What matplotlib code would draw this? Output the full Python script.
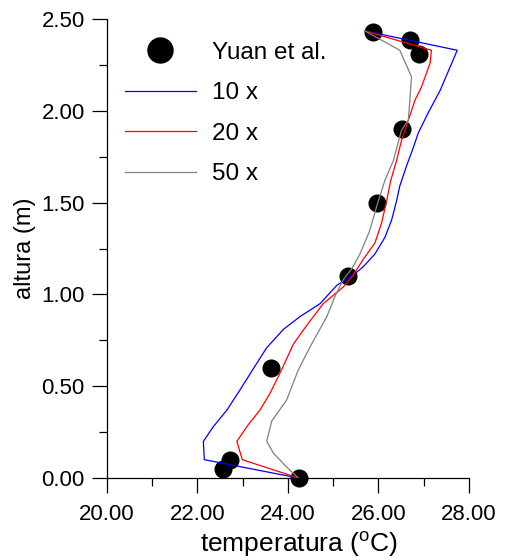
import numpy as np
import matplotlib
matplotlib.use("Agg")
import matplotlib.pyplot as plt
from matplotlib.ticker import MultipleLocator, FormatStrFormatter

plt.rcParams['font.family'] = ['Liberation Sans', 'DejaVu Sans']
plt.rcParams['mathtext.fontset'] = 'custom'
plt.rcParams['mathtext.rm'] = 'Liberation Sans'

# Yuan et al. measurements
yuan_t = [25.87, 26.70, 26.90, 26.53, 25.97, 25.33, 23.62, 24.24, 22.72, 22.56]
yuan_h = [2.43, 2.385, 2.31, 1.90, 1.50, 1.10, 0.60, 0.00, 0.10, 0.05]

# simulations (heights from floor to ceiling)
h10 = [0.00, 0.10, 0.20, 0.28, 0.37, 0.48, 0.59, 0.71, 0.81, 0.88, 0.95, 1.05, 1.105,
       1.15, 1.22, 1.31, 1.405, 1.51, 1.59, 1.70, 1.80, 1.88, 1.99, 2.11, 2.26, 2.33, 2.435]
t10 = [24.23, 22.15, 22.13, 22.35, 22.65, 22.94, 23.22, 23.53, 23.90, 24.27, 24.71, 25.08, 25.44,
       25.66, 25.92, 26.14, 26.29, 26.40, 26.47, 26.62, 26.77, 26.88, 27.10, 27.36, 27.62, 27.74, 25.70]

h20 = [0.00, 0.10, 0.20, 0.29, 0.37, 0.46, 0.59, 0.73, 0.83, 0.95, 1.04, 1.105, 1.19,
       1.28, 1.39, 1.51, 1.62, 1.73, 1.84, 1.95, 2.06, 2.13, 2.26, 2.33, 2.435]
t20 = [24.23, 22.99, 22.87, 23.12, 23.38, 23.60, 23.86, 24.12, 24.41, 24.78, 25.22, 25.44, 25.66,
       25.92, 26.07, 26.18, 26.27, 26.40, 26.51, 26.66, 26.81, 26.95, 27.14, 27.17, 25.70]

h50 = [0.00, 0.06, 0.135, 0.20, 0.31, 0.425, 0.59, 0.715, 0.88, 0.99, 1.08, 1.14, 1.22,
       1.35, 1.48, 1.62, 1.73, 1.895, 1.95, 2.08, 2.185, 2.33, 2.435]
t50 = [24.23, 23.97, 23.68, 23.53, 23.64, 23.97, 24.23, 24.49, 24.86, 25.04, 25.22, 25.41, 25.59,
       25.81, 25.96, 26.14, 26.33, 26.51, 26.66, 26.70, 26.73, 26.47, 25.70]

fig = plt.figure(figsize=(5.09, 5.60), dpi=100)
ax = fig.add_axes([0.2102, 0.1464, 0.7112, 0.8196])

ax.plot(yuan_t, yuan_h, 'o', color='black', markersize=12, clip_on=False, zorder=2,
        label='Yuan et al.')
ax.plot(t10, h10, color='blue', lw=0.9, zorder=3, label='10 x')
ax.plot(t20, h20, color='red', lw=0.9, zorder=3, label='20 x')
ax.plot(t50, h50, color='gray', lw=0.9, zorder=3, label='50 x')

ax.set_xlim(20, 28)
ax.set_ylim(0, 2.5)
ax.xaxis.set_major_locator(MultipleLocator(2))
ax.xaxis.set_minor_locator(MultipleLocator(1))
ax.yaxis.set_major_locator(MultipleLocator(0.5))
ax.yaxis.set_minor_locator(MultipleLocator(0.25))
ax.xaxis.set_major_formatter(FormatStrFormatter('%.2f'))
ax.yaxis.set_major_formatter(FormatStrFormatter('%.2f'))

for s in ['top', 'right']:
    ax.spines[s].set_visible(False)
for s in ['left', 'bottom']:
    ax.spines[s].set_linewidth(0.9)
ax.tick_params(which='major', direction='out', length=11, width=0.9, labelsize=16)
ax.tick_params(axis='y', which='major', pad=5)
ax.tick_params(axis='x', which='major', pad=8)
ax.tick_params(which='minor', direction='out', length=5.5, width=0.9)

ax.set_xlabel('temperatura ($^{\\mathrm{o}}$C)', fontsize=19, labelpad=3, x=0.529)
ax.set_ylabel('altura (m)', fontsize=17, labelpad=4)

ax.legend(loc='upper left', bbox_to_anchor=(0.226, 0.943), bbox_transform=fig.transFigure,
          frameon=False, fontsize=17.5, handlelength=2.92, markerscale=1.5,
          labelspacing=0.76, handletextpad=0.66, borderaxespad=0)

fig.savefig('out.png', dpi=100)
